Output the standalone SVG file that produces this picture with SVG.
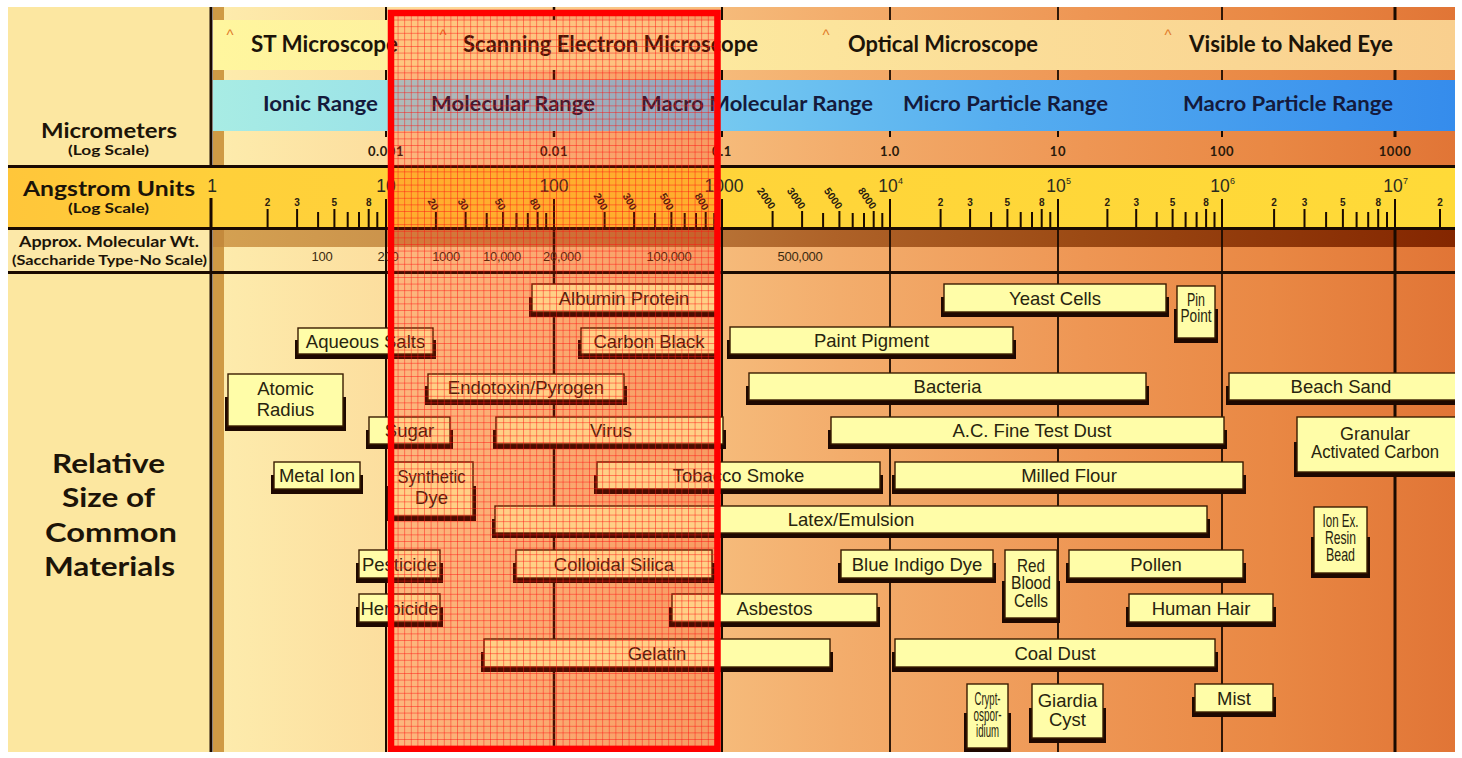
<svg xmlns="http://www.w3.org/2000/svg" width="1462" height="758" viewBox="0 0 1462 758">
<defs>
<linearGradient id="bg" gradientUnits="userSpaceOnUse" x1="224" y1="0" x2="1455" y2="0">
<stop offset="0" stop-color="#FDEBAC"/><stop offset="0.15" stop-color="#FCDC9C"/><stop offset="0.35" stop-color="#F7C282"/><stop offset="0.5" stop-color="#F3AD6C"/><stop offset="0.7" stop-color="#EE9654"/><stop offset="0.85" stop-color="#E98844"/><stop offset="1" stop-color="#E17536"/>
</linearGradient>
<linearGradient id="mic" gradientUnits="userSpaceOnUse" x1="213" y1="0" x2="1455" y2="0">
<stop offset="0" stop-color="#FFF69E"/><stop offset="0.35" stop-color="#FDEBA0"/><stop offset="0.65" stop-color="#FBDD98"/><stop offset="1" stop-color="#F9CF8E"/>
</linearGradient>
<linearGradient id="blu" gradientUnits="userSpaceOnUse" x1="213" y1="0" x2="1455" y2="0">
<stop offset="0" stop-color="#A8ECE4"/><stop offset="0.22" stop-color="#94DEEA"/><stop offset="0.43" stop-color="#72C6F0"/><stop offset="0.63" stop-color="#56AEF0"/><stop offset="1" stop-color="#358CEC"/>
</linearGradient>
<linearGradient id="ang" gradientUnits="userSpaceOnUse" x1="8" y1="0" x2="1455" y2="0">
<stop offset="0" stop-color="#FFC63A"/><stop offset="0.15" stop-color="#FFD03A"/><stop offset="1" stop-color="#FFDA38"/>
</linearGradient>
<linearGradient id="mwd" gradientUnits="userSpaceOnUse" x1="213" y1="0" x2="1455" y2="0">
<stop offset="0" stop-color="#D4A152"/><stop offset="0.3" stop-color="#C28444"/><stop offset="0.5" stop-color="#AE6228"/><stop offset="0.7" stop-color="#9C4A14"/><stop offset="1" stop-color="#842600"/>
</linearGradient>
<pattern id="grid" x="391" y="13" width="6.6" height="6.6" patternUnits="userSpaceOnUse">
<path d="M0 0.5H6.6M0.5 0V6.6" stroke="#FF1010" stroke-width="0.9" fill="none" opacity="0.5"/>
</pattern>
<style>
.hd{font-family:Lato,"Open Sans","DejaVu Sans",sans-serif;font-weight:bold;fill:#1C1408}
.rg{font-family:Lato,"Open Sans","DejaVu Sans",sans-serif;font-weight:bold;fill:#141A3C;font-size:21px}
.ms{font-family:Lato,"Open Sans","DejaVu Sans",sans-serif;font-weight:bold;fill:#1C1408;font-size:22px}
.car{font-family:"Liberation Sans",Arial,sans-serif;font-size:15px;fill:#E07A2A;text-anchor:middle}
.um{font-family:Lato,"Open Sans",sans-serif;font-weight:bold;font-size:13px;fill:#2A1A0A;text-anchor:middle;letter-spacing:0.6px}
.an{font-family:"Liberation Sans",Arial,sans-serif;font-size:17.5px;fill:#2A2A20;text-anchor:middle}
.sup{font-family:"Liberation Sans",Arial,sans-serif;font-size:9px;fill:#2A2A20}
.mn{font-family:"Liberation Sans",Arial,sans-serif;font-size:10px;font-weight:bold;fill:#2A2010;text-anchor:middle}
.rt{font-family:"Liberation Sans",Arial,sans-serif;font-size:10.5px;font-weight:bold;fill:#2A2010;text-anchor:end}
.mw{font-family:"Liberation Sans",Arial,sans-serif;font-size:13px;fill:#3A2A10;text-anchor:middle;letter-spacing:-0.3px}
.vl{stroke:#1A0A00;fill:none}
.hl{stroke:#1A0A00;stroke-width:3}
.tk{stroke:#1A0A00;stroke-width:2;fill:none}
.sh{fill:#1E0800}
.bx{fill:#FFFDA8;stroke:#3A1C00;stroke-width:1.4}
.bt{font-family:"Liberation Sans",Arial,sans-serif;font-size:18.5px;fill:#28240E;text-anchor:middle}
</style>
</defs>

<rect x="0" y="0" width="1462" height="758" fill="#FFFFFF"/>

<g id="left-column">
<rect x="8" y="7" width="203" height="160" fill="#FCE7A1"/>
<rect x="8" y="229" width="203" height="44" fill="#FCE8A8"/>
<rect x="8" y="273" width="203" height="479" fill="#FCE7A0"/>
</g>

<g id="backgrounds">
<rect x="213" y="7" width="1242" height="745" fill="url(#bg)"/>
<rect x="213" y="229" width="1242" height="18" fill="url(#mwd)"/>
<rect x="213" y="7" width="11" height="745" fill="#CF9A45"/>
<rect x="213" y="229" width="11" height="18" fill="#C48A3C"/>
</g>

<g id="decade-lines">
<line class="vl" x1="386" y1="7" x2="386" y2="752" stroke-width="2"/>
<line class="vl" x1="554" y1="7" x2="554" y2="752" stroke-width="2.5"/>
<line class="vl" x1="722" y1="7" x2="722" y2="752" stroke-width="2"/>
<line class="vl" x1="890" y1="7" x2="890" y2="752" stroke-width="1.8"/>
<line class="vl" x1="1058" y1="7" x2="1058" y2="752" stroke-width="1.8"/>
<line class="vl" x1="1222" y1="7" x2="1222" y2="752" stroke-width="1.8"/>
<line class="vl" x1="1395" y1="7" x2="1395" y2="752" stroke-width="3"/>
</g>

<g id="bands">
<rect x="213" y="20" width="1242" height="50" fill="url(#mic)"/>
<rect x="213" y="80" width="1242" height="51" fill="url(#blu)"/>
<rect x="224" y="137" width="1231" height="29" fill="url(#bg)"/>
<rect x="8" y="168" width="1447" height="60" fill="url(#ang)"/>
</g>

<g id="rules">
<line class="hl" x1="8" y1="166.5" x2="1455" y2="166.5"/>
<line class="hl" x1="8" y1="228.5" x2="1455" y2="228.5"/>
<line class="hl" x1="8" y1="272.5" x2="1455" y2="272.5"/>
<line class="vl" x1="211" y1="7" x2="211" y2="168" stroke-width="3"/>
<line class="vl" x1="211" y1="198" x2="211" y2="752" stroke-width="3"/>
</g>

<g id="microscopes">
<text class="car" x="230" y="40">^</text>
<text class="car" x="443" y="40">^</text>
<text class="car" x="826" y="40">^</text>
<text class="car" x="1168" y="40">^</text>
<text class="ms" x="251" y="52" textLength="147" lengthAdjust="spacingAndGlyphs">ST Microscope</text>
<text class="ms" x="463" y="52" textLength="295" lengthAdjust="spacingAndGlyphs">Scanning Electron Microscope</text>
<text class="ms" x="848" y="52" textLength="190" lengthAdjust="spacingAndGlyphs">Optical Microscope</text>
<text class="ms" x="1189" y="52" textLength="204" lengthAdjust="spacingAndGlyphs">Visible to Naked Eye</text>
</g>

<g id="ranges">
<text class="rg" x="263" y="111" textLength="115" lengthAdjust="spacingAndGlyphs">Ionic Range</text>
<text class="rg" x="431" y="111" textLength="164" lengthAdjust="spacingAndGlyphs">Molecular Range</text>
<text class="rg" x="641" y="111" textLength="232" lengthAdjust="spacingAndGlyphs">Macro Molecular Range</text>
<text class="rg" x="903" y="111" textLength="205" lengthAdjust="spacingAndGlyphs">Micro Particle Range</text>
<text class="rg" x="1183" y="111" textLength="210" lengthAdjust="spacingAndGlyphs">Macro Particle Range</text>
</g>

<g id="micrometer-scale">
<path class="tk" d="M386 131V137M554 131V137M722 131V137M890 131V137M1058 131V137M1222 131V137M1395 131V137"/>
<text class="um" x="386" y="156">0.001</text>
<text class="um" x="554" y="156">0.01</text>
<text class="um" x="722" y="156">0.1</text>
<text class="um" x="890" y="156">1.0</text>
<text class="um" x="1058" y="156">10</text>
<text class="um" x="1222" y="156">100</text>
<text class="um" x="1395" y="156">1000</text>
</g>

<g id="angstrom-scale">
<path class="tk" stroke-width="3" d="M386 199V228M554 199V228M722 199V228M890 199V228M1058 199V228M1222 199V228M1395 199V228"/>
<path class="tk" d="M267.6 209V228M297.1 209V228M334.4 209V228M368.7 209V228M318.1 212V228M347.7 212V228M359 212V228M377.3 212V228
M435.9 212V228M465.6 212V228M503.1 212V228M537.6 212V228M486.7 213V228M516.5 213V228M527.8 213V228M546.2 213V228
M604.6 212V228M634.1 212V228M671.4 212V228M705.7 212V228M655.1 213V228M684.7 213V228M696 213V228M714.3 213V228
M772.6 211V228M802.1 211V228M839.4 211V228M873.7 211V228M823.1 213V228M852.7 213V228M864 213V228M882.3 213V228
M940.6 209V228M970.1 209V228M1007.4 209V228M1041.7 209V228M991.1 212V228M1020.7 212V228M1032 212V228M1050.3 212V228
M1107.4 209V228M1136.2 209V228M1172.6 209V228M1206.1 209V228M1156.7 212V228M1185.6 212V228M1196.6 212V228M1214.5 212V228
M1274.1 209V228M1304.5 209V228M1342.9 209V228M1378.2 209V228M1326.1 212V228M1356.6 212V228M1368.2 212V228M1387 212V228
M1440 209V228"/>
<text class="an" x="212" y="192">1</text>
<text class="an" x="386" y="192">10</text>
<text class="an" x="554" y="192">100</text>
<text class="an" x="724" y="192">1000</text>
<text class="an" x="888" y="192">10</text><text class="sup" x="898" y="184">4</text>
<text class="an" x="1056" y="192">10</text><text class="sup" x="1066" y="184">5</text>
<text class="an" x="1220" y="192">10</text><text class="sup" x="1230" y="184">6</text>
<text class="an" x="1393" y="192">10</text><text class="sup" x="1403" y="184">7</text>
<text class="mn" x="267.6" y="206">2</text><text class="mn" x="297.1" y="206">3</text><text class="mn" x="334.4" y="206">5</text><text class="mn" x="368.7" y="206">8</text>
<text class="mn" x="940.6" y="206">2</text><text class="mn" x="970.1" y="206">3</text><text class="mn" x="1007.4" y="206">5</text><text class="mn" x="1041.7" y="206">8</text>
<text class="mn" x="1107.4" y="206">2</text><text class="mn" x="1136.2" y="206">3</text><text class="mn" x="1172.6" y="206">5</text><text class="mn" x="1206.1" y="206">8</text>
<text class="mn" x="1274.1" y="206">2</text><text class="mn" x="1304.5" y="206">3</text><text class="mn" x="1342.9" y="206">5</text><text class="mn" x="1378.2" y="206">8</text>
<text class="mn" x="1440" y="206">2</text>
<text class="rt" x="433" y="211" transform="rotate(60 433 211)">20</text>
<text class="rt" x="463" y="211" transform="rotate(60 463 211)">30</text>
<text class="rt" x="500" y="211" transform="rotate(60 500 211)">50</text>
<text class="rt" x="535" y="211" transform="rotate(60 535 211)">80</text>
<text class="rt" x="602" y="211" transform="rotate(60 602 211)">200</text>
<text class="rt" x="631" y="211" transform="rotate(60 631 211)">300</text>
<text class="rt" x="668" y="211" transform="rotate(60 668 211)">500</text>
<text class="rt" x="703" y="211" transform="rotate(60 703 211)">800</text>
<text class="rt" x="770" y="210" transform="rotate(55 770 210)">2000</text>
<text class="rt" x="800" y="210" transform="rotate(55 800 210)">3000</text>
<text class="rt" x="837" y="210" transform="rotate(55 837 210)">5000</text>
<text class="rt" x="871" y="210" transform="rotate(55 871 210)">8000</text>
</g>

<g id="molecular-weight">
<text class="mw" x="322" y="261">100</text>
<text class="mw" x="388" y="261">200</text>
<text class="mw" x="446" y="261">1000</text>
<text class="mw" x="502" y="261">10,000</text>
<text class="mw" x="562" y="261">20,000</text>
<text class="mw" x="669" y="261">100,000</text>
<text class="mw" x="800" y="261">500,000</text>
</g>

<g id="left-labels">
<text class="hd" x="41" y="138" font-size="20" textLength="136" lengthAdjust="spacingAndGlyphs">Micrometers</text>
<text class="hd" x="68" y="155" font-size="13" textLength="81" lengthAdjust="spacingAndGlyphs">(Log Scale)</text>
<text class="hd" x="23" y="196" font-size="20" textLength="172" lengthAdjust="spacingAndGlyphs">Angstrom Units</text>
<text class="hd" x="68" y="213" font-size="13" textLength="81" lengthAdjust="spacingAndGlyphs">(Log Scale)</text>
<text class="hd" x="19" y="247" font-size="14.5" textLength="180" lengthAdjust="spacingAndGlyphs">Approx. Molecular Wt.</text>
<text class="hd" x="12" y="265" font-size="13.5" textLength="195" lengthAdjust="spacingAndGlyphs">(Saccharide Type-No Scale)</text>
<text class="hd" x="52" y="473" font-size="27" textLength="113" lengthAdjust="spacingAndGlyphs">Relative</text>
<text class="hd" x="62" y="507" font-size="27" textLength="93" lengthAdjust="spacingAndGlyphs">Size of</text>
<text class="hd" x="45" y="542" font-size="27" textLength="132" lengthAdjust="spacingAndGlyphs">Common</text>
<text class="hd" x="44" y="576" font-size="27" textLength="131" lengthAdjust="spacingAndGlyphs">Materials</text>
</g>

<g id="albumin"><rect class="sh" x="529" y="297" width="191" height="20"/><rect class="bx" x="532" y="284" width="185" height="28"/><text class="bt" x="624" y="304.5">Albumin Protein</text></g>
<g id="yeast"><rect class="sh" x="941" y="297" width="228" height="20"/><rect class="bx" x="944" y="284" width="222" height="28"/><text class="bt" x="1055" y="304.5">Yeast Cells</text></g>
<g id="pinpoint"><rect class="sh" x="1174" y="309" width="44" height="34"/><rect class="bx" x="1177" y="286" width="38" height="52"/><text class="bt" x="1196" y="305.5" font-size="12.5" textLength="18" lengthAdjust="spacingAndGlyphs">Pin</text><text class="bt" x="1196" y="322" font-size="12.5" textLength="31" lengthAdjust="spacingAndGlyphs">Point</text></g>
<g id="aqueous"><rect class="sh" x="295" y="340" width="141" height="19"/><rect class="bx" x="298" y="328" width="135" height="26"/><text class="bt" x="365.5" y="347.5">Aqueous Salts</text></g>
<g id="carbonblack"><rect class="sh" x="578" y="340" width="142" height="19"/><rect class="bx" x="581" y="328" width="136" height="26"/><text class="bt" x="649" y="347.5">Carbon Black</text></g>
<g id="paint"><rect class="sh" x="727" y="340" width="289" height="19"/><rect class="bx" x="730" y="327" width="283" height="27"/><text class="bt" x="871.5" y="347">Paint Pigment</text></g>
<g id="atomic"><rect class="sh" x="225" y="397" width="121" height="34"/><rect class="bx" x="228" y="374" width="115" height="52"/><text class="bt" x="285.5" y="395" font-size="19">Atomic</text><text class="bt" x="285.5" y="416" font-size="19">Radius</text></g>
<g id="endotoxin"><rect class="sh" x="425" y="386" width="202" height="19"/><rect class="bx" x="428" y="374" width="196" height="26"/><text class="bt" x="526" y="393.5">Endotoxin/Pyrogen</text></g>
<g id="bacteria"><rect class="sh" x="746" y="386" width="403" height="19"/><rect class="bx" x="749" y="373" width="397" height="27"/><text class="bt" x="947.5" y="393">Bacteria</text></g>
<g id="beachsand"><rect class="sh" x="1226" y="386" width="240" height="19"/><rect class="bx" x="1229" y="373" width="235" height="27"/><text class="bt" x="1341" y="393">Beach Sand</text></g>
<g id="sugar"><rect class="sh" x="366" y="430" width="87" height="19"/><rect class="bx" x="369" y="417" width="81" height="27"/><text class="bt" x="409.5" y="437">Sugar</text></g>
<g id="virus"><rect class="sh" x="493" y="430" width="233" height="19"/><rect class="bx" x="496" y="417" width="227" height="27"/><text class="bt" x="611" y="437">Virus</text></g>
<g id="acdust"><rect class="sh" x="828" y="430" width="399" height="19"/><rect class="bx" x="831" y="417" width="393" height="27"/><text class="bt" x="1032" y="437">A.C. Fine Test Dust</text></g>
<g id="granular"><rect class="sh" x="1294" y="442" width="170" height="35"/><rect class="bx" x="1297" y="417" width="165" height="55"/><text class="bt" x="1375" y="439.5" font-size="16" textLength="70" lengthAdjust="spacingAndGlyphs">Granular</text><text class="bt" x="1375" y="457.5" font-size="16" textLength="128" lengthAdjust="spacingAndGlyphs">Activated Carbon</text></g>
<g id="metalion"><rect class="sh" x="271" y="475" width="92" height="19"/><rect class="bx" x="274" y="462" width="86" height="27"/><text class="bt" x="317" y="482" font-size="17.5">Metal Ion</text></g>
<g id="syntheticdye"><rect class="sh" x="387" y="486" width="89" height="35"/><rect class="bx" x="390" y="462" width="83" height="54"/><text class="bt" x="431.5" y="482.5" font-size="15" textLength="68" lengthAdjust="spacingAndGlyphs">Synthetic</text><text class="bt" x="431.5" y="503.5" font-size="15">Dye</text></g>
<g id="tobacco"><rect class="sh" x="594" y="475" width="289" height="19"/><rect class="bx" x="597" y="462" width="283" height="27"/><text class="bt" x="738.5" y="482">Tobacco Smoke</text></g>
<g id="milledflour"><rect class="sh" x="892" y="475" width="354" height="19"/><rect class="bx" x="895" y="462" width="348" height="27"/><text class="bt" x="1069" y="482">Milled Flour</text></g>
<g id="latex"><rect class="sh" x="492" y="519" width="718" height="19"/><rect class="bx" x="495" y="506" width="712" height="27"/><text class="bt" x="851" y="526">Latex/Emulsion</text></g>
<g id="ionex"><rect class="sh" x="1311" y="537" width="59" height="41"/><rect class="bx" x="1314" y="507" width="53" height="66"/><text class="bt" x="1340.5" y="526.5" font-size="13" textLength="36" lengthAdjust="spacingAndGlyphs">Ion Ex.</text><text class="bt" x="1340.5" y="543.5" font-size="13" textLength="31" lengthAdjust="spacingAndGlyphs">Resin</text><text class="bt" x="1340.5" y="560.5" font-size="13" textLength="29" lengthAdjust="spacingAndGlyphs">Bead</text></g>
<g id="pesticide"><rect class="sh" x="356" y="563" width="87" height="20"/><rect class="bx" x="359" y="550" width="81" height="28"/><text class="bt" x="399.5" y="570.5" font-size="17">Pesticide</text></g>
<g id="colloidal"><rect class="sh" x="513" y="563" width="202" height="20"/><rect class="bx" x="516" y="550" width="196" height="28"/><text class="bt" x="614" y="570.5">Colloidal Silica</text></g>
<g id="blueindigo"><rect class="sh" x="838" y="563" width="158" height="20"/><rect class="bx" x="841" y="550" width="152" height="28"/><text class="bt" x="917" y="570.5">Blue Indigo Dye</text></g>
<g id="redblood"><rect class="sh" x="1002" y="581" width="58" height="42"/><rect class="bx" x="1005" y="550" width="52" height="68"/><text class="bt" x="1031" y="571.5" font-size="16" textLength="28" lengthAdjust="spacingAndGlyphs">Red</text><text class="bt" x="1031" y="589" font-size="16" textLength="40" lengthAdjust="spacingAndGlyphs">Blood</text><text class="bt" x="1031" y="606.5" font-size="16" textLength="34" lengthAdjust="spacingAndGlyphs">Cells</text></g>
<g id="pollen"><rect class="sh" x="1066" y="563" width="180" height="20"/><rect class="bx" x="1069" y="550" width="174" height="28"/><text class="bt" x="1156" y="570.5">Pollen</text></g>
<g id="herbicide"><rect class="sh" x="356" y="607" width="87" height="20"/><rect class="bx" x="359" y="594" width="81" height="28"/><text class="bt" x="399.5" y="614.5" font-size="17">Herbicide</text></g>
<g id="asbestos"><rect class="sh" x="669" y="607" width="211" height="20"/><rect class="bx" x="672" y="594" width="205" height="28"/><text class="bt" x="774.5" y="614.5">Asbestos</text></g>
<g id="humanhair"><rect class="sh" x="1126" y="607" width="150" height="20"/><rect class="bx" x="1129" y="594" width="144" height="28"/><text class="bt" x="1201" y="614.5">Human Hair</text></g>
<g id="gelatin"><rect class="sh" x="481" y="652" width="352" height="20"/><rect class="bx" x="484" y="639" width="346" height="28"/><text class="bt" x="657" y="659.5">Gelatin</text></g>
<g id="coaldust"><rect class="sh" x="892" y="652" width="326" height="20"/><rect class="bx" x="895" y="639" width="320" height="28"/><text class="bt" x="1055" y="659.5">Coal Dust</text></g>
<g id="cryptosporidium"><rect class="sh" x="964" y="713" width="47" height="40"/><rect class="bx" x="967" y="684" width="41" height="64"/><text class="bt" x="987.5" y="705" font-size="11" textLength="26" lengthAdjust="spacingAndGlyphs">Crypt-</text><text class="bt" x="987.5" y="721" font-size="11" textLength="28" lengthAdjust="spacingAndGlyphs">ospor-</text><text class="bt" x="987.5" y="737" font-size="11" textLength="23" lengthAdjust="spacingAndGlyphs">idium</text></g>
<g id="giardia"><rect class="sh" x="1029" y="708" width="77" height="35"/><rect class="bx" x="1032" y="684" width="71" height="54"/><text class="bt" x="1067.5" y="707" font-size="19">Giardia</text><text class="bt" x="1067.5" y="726" font-size="19">Cyst</text></g>
<g id="mist"><rect class="sh" x="1192" y="697" width="84" height="20"/><rect class="bx" x="1195" y="684" width="78" height="28"/><text class="bt" x="1234" y="704.5">Mist</text></g>

<g id="highlight">
<rect x="391" y="13" width="326.5" height="736" fill="#FF2000" opacity="0.2"/>
<rect x="391" y="13" width="326.5" height="736" fill="url(#grid)"/>
<rect x="391" y="13" width="326.5" height="736" fill="none" stroke="#FF0000" stroke-width="6.5"/>
</g>

<g id="margins">
<rect x="1455" y="0" width="7" height="758" fill="#FFFFFF"/>
<rect x="0" y="752" width="1462" height="6" fill="#FFFFFF"/>
</g>
</svg>
